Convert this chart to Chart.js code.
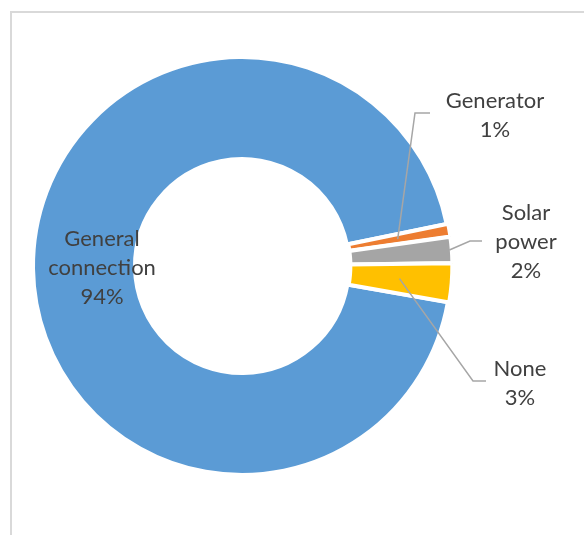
<!DOCTYPE html>
<html lang="en">

<head>
    <meta charset="UTF-8">
    <script src="https://cdn.jsdelivr.net/npm/chart.js"></script>
    <title>Power source</title>
    <style>
        body { margin: 0; background: #fff; }
        .frame { position: absolute; left: 10px; top: 11px; width: 600px; height: 560px;
                 border-top: 2px solid #d9d9d9; border-left: 2px solid #d9d9d9; }
        .chart-container { position: absolute; left: 0; top: 0; width: 584px; height: 535px; }
    </style>
</head>

<body>
    <div class="frame"></div>
    <div class="chart-container">
        <canvas id="myChart"></canvas>
    </div>
    <script>
        // data
        var categories = ['General connection', 'Generator', 'Solar power', 'None']
        var labelLines = [['General', 'connection'], ['Generator'], ['Solar', 'power'], ['None']]
        var values = [94, 1, 2, 3]
        var colors = ['#5b9bd5', '#ed7d31', '#a5a5a5', '#ffc000']

        // where each label goes, relative to the doughnut centre
        // anchorR: radius of the leader start (inside = label at mid angle)
        var labelLayout = [
            { inside: true, r: 140 },
            { anchorR: 158, elbow: [173, -153], end: [188, -153], tx: 253, ty: -165 },
            { anchorR: 208, elbow: [228, -25], end: [240, -25], tx: 284, ty: -53 },
            { anchorR: 158, elbow: [231, 115], end: [244, 115], tx: 278, ty: 103 }
        ]

        var donutLabels = {
            id: 'donutLabels',
            afterDatasetsDraw: function(chart) {
                var ctx = chart.ctx
                var meta = chart.getDatasetMeta(0)
                var lineH = 29
                ctx.save()
                ctx.font = '22px Lato'
                ctx.fillStyle = '#404040'
                ctx.textAlign = 'center'
                ctx.textBaseline = 'middle'
                meta.data.forEach(function(arc, i) {
                    var p = arc.getProps(['x', 'y', 'startAngle', 'endAngle'], true)
                    var mid = (p.startAngle + p.endAngle) / 2
                    var lay = labelLayout[i]
                    var lines = labelLines[i].concat([values[i] + '%'])
                    var tx, ty
                    if (lay.inside) {
                        tx = p.x + Math.cos(mid) * lay.r
                        ty = p.y + Math.sin(mid) * lay.r - (lines.length - 1) * lineH / 2
                    } else {
                        var ax = p.x + Math.cos(mid) * lay.anchorR
                        var ay = p.y + Math.sin(mid) * lay.anchorR
                        ctx.beginPath()
                        ctx.strokeStyle = '#a6a6a6'
                        ctx.lineWidth = 1.5
                        ctx.moveTo(ax, ay)
                        ctx.lineTo(p.x + lay.elbow[0], p.y + lay.elbow[1])
                        ctx.lineTo(p.x + lay.end[0], p.y + lay.end[1])
                        ctx.stroke()
                        tx = p.x + lay.tx
                        ty = p.y + lay.ty
                    }
                    lines.forEach(function(t, k) {
                        ctx.fillText(t, tx, ty + k * lineH)
                    })
                })
                ctx.restore()
            }
        }

        var ctx = document.getElementById('myChart')
        var myChart = new Chart(ctx, {
            type: 'doughnut',
            data: {
                labels: categories,
                datasets: [{
                    data: values,
                    backgroundColor: colors,
                    borderColor: '#ffffff',
                    borderWidth: 4,
                    offset: [0, 3, 3, 3],
                    hoverOffset: 0
                }]
            },
            options: {
                responsive: true,
                maintainAspectRatio: false,
                animation: false,
                rotation: 100,
                radius: 209,
                cutout: '51.2%',
                layout: { padding: { left: 20, right: 120, top: 20, bottom: 23 } },
                plugins: {
                    legend: { display: false },
                    tooltip: { enabled: false }
                },
                events: []
            },
            plugins: [donutLabels]
        });
    </script>

</body>

</html>
